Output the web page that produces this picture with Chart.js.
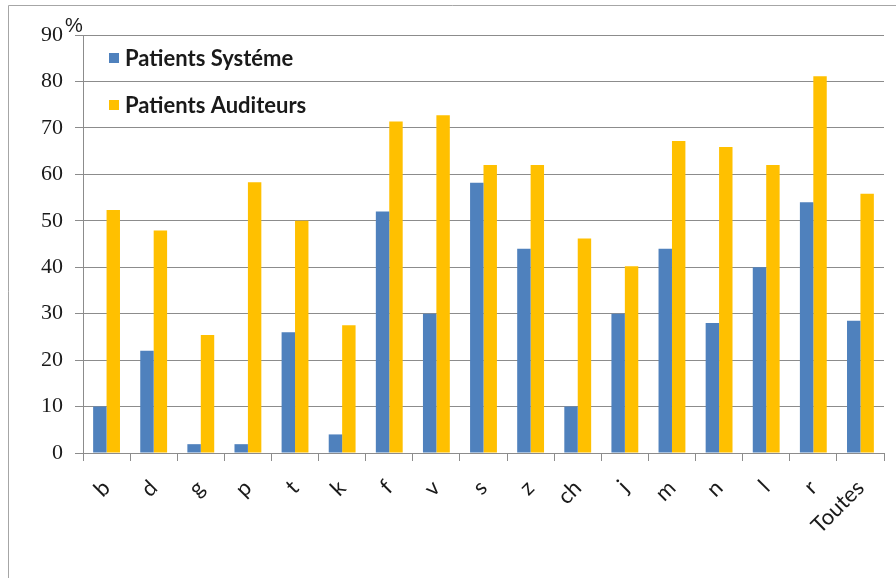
<!DOCTYPE html>
<html>
<head>
<meta charset="utf-8">
<script src="https://cdn.jsdelivr.net/npm/chart.js@4/dist/chart.umd.min.js"></script>
<style>
  html, body { margin: 0; padding: 0; background: #fff; }
  #wrap { width: 896px; height: 578px; position: relative; }
</style>
</head>
<body>
<div id="wrap"><canvas id="chart" width="896" height="578"></canvas></div>
<script>
// categories (phonemes)
const categories = ['b', 'd', 'g', 'p', 't', 'k', 'f', 'v', 's', 'z', 'ch', 'j', 'm', 'n', 'l', 'r', 'Toutes'];

// % per group
const systemeValues   = [10, 22, 1.9, 1.9, 26, 4, 52, 30, 58.2, 44, 10, 30, 44, 28, 40, 54, 28.5];
const auditeursValues = [52.3, 47.9, 25.4, 58.3, 50, 27.5, 71.4, 72.7, 62, 62, 46.2, 40.2, 67.2, 65.9, 62, 81.1, 55.8];

const yTicks = [0, 10, 20, 30, 40, 50, 60, 70, 80, 90];

const blue   = '#4f81bd';
const yellow = '#ffc000';
const gridColor = '#8c8c8c';
const textColor = '#1a1a1a';

// frame, % unit label and the in-plot legend
const decorPlugin = {
    id: 'decor',
    beforeDraw(chart) {
        const ctx = chart.ctx;
        ctx.save();
        ctx.strokeStyle = '#a6a6a6';
        ctx.lineWidth = 1;
        ctx.beginPath();
        ctx.moveTo(8.5, 578);
        ctx.lineTo(8.5, 5.5);
        ctx.lineTo(896, 5.5);
        ctx.stroke();
        ctx.restore();
    },
    afterDraw(chart) {
        const ctx = chart.ctx;
        const area = chart.chartArea;
        ctx.save();
        ctx.fillStyle = textColor;
        ctx.font = '20px "Liberation Sans"';
        ctx.textBaseline = 'alphabetic';
        ctx.fillText('%', area.left - 18, area.top - 3);

        ctx.font = 'bold 22px Lato';
        ctx.textBaseline = 'middle';
        chart.data.datasets.forEach((ds, i) => {
            const y = area.top + 23 + i * 47;
            ctx.fillStyle = ds.backgroundColor;
            ctx.fillRect(area.left + 26, y - 5, 10, 10);
            ctx.fillStyle = textColor;
            ctx.fillText(ds.label, area.left + 42, y + 1);
        });
        ctx.restore();
    }
};

new Chart(document.getElementById('chart'), {
    type: 'bar',
    data: {
        labels: categories,
        datasets: [
            {
                label: 'Patients Systéme',
                data: systemeValues,
                backgroundColor: blue,
                barPercentage: 1,
                categoryPercentage: 0.57
            },
            {
                label: 'Patients Auditeurs',
                data: auditeursValues,
                backgroundColor: yellow,
                barPercentage: 1,
                categoryPercentage: 0.57
            }
        ]
    },
    options: {
        responsive: false,
        animation: false,
        layout: { padding: { left: 0, top: 35, right: 12, bottom: 0 } },
        plugins: {
            legend: { display: false },
            tooltip: { enabled: false }
        },
        scales: {
            x: {
                grid: {
                    drawOnChartArea: false,
                    drawTicks: true,
                    tickLength: 8,
                    color: gridColor,
                    offset: true
                },
                border: { color: gridColor },
                ticks: {
                    color: textColor,
                    font: { family: 'Lato', size: 22 },
                    minRotation: 45,
                    maxRotation: 45,
                    padding: 14,
                    autoSkip: false
                },
                afterFit(scale) { scale.height = 125; }
            },
            y: {
                min: 0,
                max: 90,
                afterBuildTicks(scale) { scale.ticks = yTicks.map(v => ({ value: v })); },
                grid: { color: gridColor, tickLength: 8 },
                border: { color: gridColor },
                ticks: {
                    color: textColor,
                    font: { family: 'Liberation Serif', size: 22 },
                    padding: 12
                },
                afterFit(scale) { scale.width = 83; }
            }
        }
    },
    plugins: [decorPlugin]
});
</script>
</body>
</html>
